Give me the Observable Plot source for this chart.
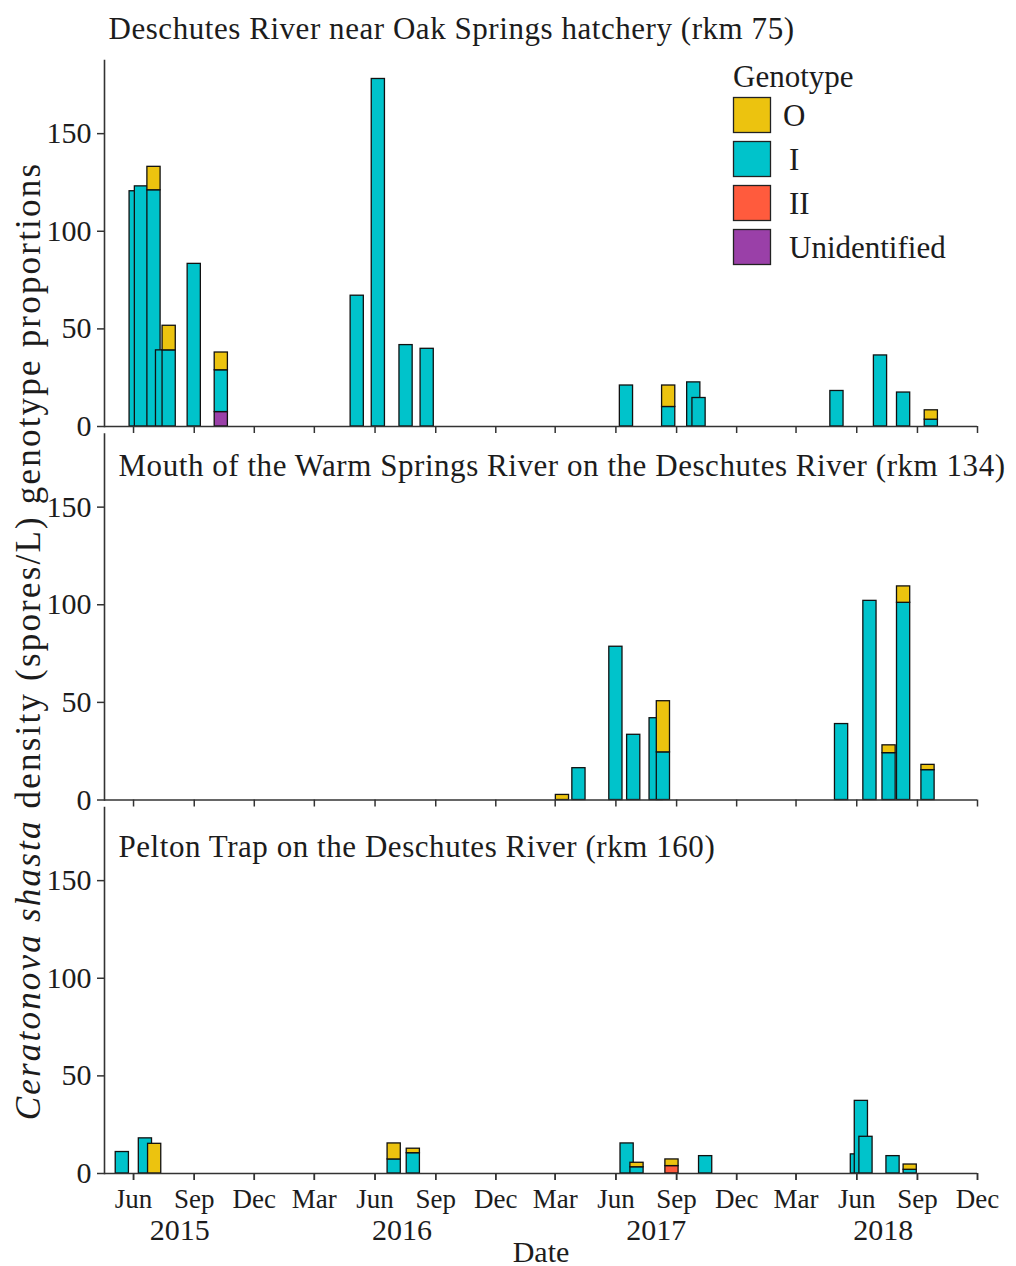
<!DOCTYPE html>
<html>
<head>
<meta charset="utf-8">
<script src="https://cdn.jsdelivr.net/npm/d3@7"></script>
<script src="https://cdn.jsdelivr.net/npm/@observablehq/plot@0.6"></script>
<style>
  html, body { margin: 0; padding: 0; background: #fff; }
  #chart { width: 1016px; height: 1266px; }
</style>
</head>
<body>
<div id="chart"></div>
<script>
// Sampling sites (one panel each)
const sites = [
  "Deschutes River near Oak Springs hatchery (rkm 75)",
  "Mouth of the Warm Springs River on the Deschutes River (rkm 134)",
  "Pelton Trap on the Deschutes River (rkm 160)"
];

// Genotype categories, legend order and fill colours
const genotypes = ["O", "I", "II", "Unidentified"];
const genotypeColors = ["#ecc30f", "#00c3cb", "#ff5b3d", "#9a40a8"];
// Stacking order, bottom to top
const stackOrder = ["Unidentified", "II", "I", "O"];

// Oak Springs hatchery (spores/L)
const oakDates = ["2015-06-05", "2015-06-13", "2015-07-02", "2015-07-15", "2015-07-25", "2015-09-01", "2015-10-12",
                  "2016-05-05", "2016-06-06", "2016-07-18", "2016-08-19",
                  "2017-06-17", "2017-08-20", "2017-09-27", "2017-10-05",
                  "2018-05-02", "2018-07-07", "2018-08-11", "2018-09-22"];
const oakO  = [0, 0, 12, 0, 12.6, 0, 9.1, 0, 0, 0, 0, 0, 11, 0, 0, 0, 0, 0, 4.8];
const oakI  = [120.5, 123, 121, 39, 39, 83.3, 21.4, 67, 178, 41.7, 39.8, 21, 10, 22.6, 14.6, 18.2, 36.4, 17.4, 3.5];
const oakII = [0, 0, 0, 0, 0, 0, 0, 0, 0, 0, 0, 0, 0, 0, 0, 0, 0, 0, 0];
const oakU  = [0, 0, 0, 0, 0, 0, 7.4, 0, 0, 0, 0, 0, 0, 0, 0, 0, 0, 0, 0];

// Mouth of the Warm Springs River (spores/L)
const warmDates = ["2017-03-12", "2017-04-06", "2017-06-01", "2017-06-28", "2017-08-01", "2017-08-12",
                   "2018-05-09", "2018-06-21", "2018-07-20", "2018-08-11", "2018-09-17"];
const warmO  = [2.6, 0, 0, 0, 0, 26.2, 0, 0, 4, 8.4, 2.7];
const warmI  = [0, 16.3, 78.5, 33.4, 41.9, 24.4, 38.9, 102, 24, 101, 15.3];
const warmII = [0, 0, 0, 0, 0, 0, 0, 0, 0, 0, 0];
const warmU  = [0, 0, 0, 0, 0, 0, 0, 0, 0, 0, 0];

// Pelton Trap (spores/L)
const peltonDates = ["2015-05-15", "2015-06-19", "2015-07-03", "2016-06-30", "2016-07-29",
                     "2017-06-18", "2017-07-03", "2017-08-25", "2017-10-15",
                     "2018-06-02", "2018-06-08", "2018-06-15", "2018-07-26", "2018-08-21"];
const peltonO  = [0, 0, 15.2, 8.2, 2.3, 0, 2.3, 3.4, 0, 0, 0, 0, 0, 2.7];
const peltonI  = [11, 18, 0, 7.2, 10.4, 15.4, 3.2, 0, 8.9, 9.8, 37.2, 18.8, 8.9, 1.9];
const peltonII = [0, 0, 0, 0, 0, 0, 0, 3.8, 0, 0, 0, 0, 0, 0];
const peltonU  = [0, 0, 0, 0, 0, 0, 0, 0, 0, 0, 0, 0, 0, 0];

// Axes
const xDomain = ["2015-04-18", "2018-12-01"];
const monthTicks = ["2015-06-01", "2015-09-01", "2015-12-01", "2016-03-01", "2016-06-01", "2016-09-01",
                    "2016-12-01", "2017-03-01", "2017-06-01", "2017-09-01", "2017-12-01", "2018-03-01",
                    "2018-06-01", "2018-09-01", "2018-12-01"];
const yearLabels = ["2015-08-10", "2016-07-12", "2017-08-01", "2018-07-11"];
const yTicks = [0, 50, 100, 150];
const yMax = 189;

// Long table: one row per sample date and genotype
const series = [
  {site: sites[0], dates: oakDates, O: oakO, I: oakI, II: oakII, Unidentified: oakU},
  {site: sites[1], dates: warmDates, O: warmO, I: warmI, II: warmII, Unidentified: warmU},
  {site: sites[2], dates: peltonDates, O: peltonO, I: peltonI, II: peltonII, Unidentified: peltonU}
];
const rows = [];
for (const s of series) {
  s.dates.forEach((d, i) => {
    for (const g of stackOrder) {
      const v = s[g][i];
      if (v > 0) rows.push({site: s.site, date: new Date(d), genotype: g, value: v});
    }
  });
}

const toDate = (arr) => arr.map(d => new Date(d));
const ink = "#1c1c1c";
const axisInk = "#333";
const halfWidthDays = 10;
const titleOptions = {fy: d => d, text: d => d, frameAnchor: "top-left", textAnchor: "start", lineAnchor: "bottom",
                      fontSize: 31, fill: ink, className: "panel-title"};

const chart = Plot.plot({
  width: 1016,
  height: 1266,
  marginTop: 57,
  marginBottom: 93,
  marginLeft: 104,
  marginRight: 39,
  style: {fontFamily: "'Liberation Serif', 'Times New Roman', serif", fontSize: "28px", color: ink, background: "#fff"},
  x: {type: "utc", domain: toDate(xDomain), label: null},
  y: {domain: [0, yMax], label: null},
  fy: {domain: sites, axis: null, paddingInner: 0.012, paddingOuter: 0, round: false},
  color: {domain: genotypes, range: genotypeColors},
  marks: [
    Plot.rectY(rows, {
      x1: d => d3.utcDay.offset(d.date, -halfWidthDays),
      x2: d => d3.utcDay.offset(d.date, halfWidthDays),
      y: "value",
      fy: "site",
      fill: "genotype",
      stroke: "#111",
      strokeWidth: 1.3
    }),
    Plot.ruleY([0], {stroke: axisInk, strokeWidth: 1.6}),
    Plot.frame({anchor: "left", stroke: axisInk, strokeWidth: 1.6, insetTop: 3}),
    // tick marks under every panel's baseline
    Plot.axisX(toDate(monthTicks), {tickSize: 7, fill: "none", stroke: axisInk, strokeWidth: 1.5, facetAnchor: null}),
    // month labels under the bottom panel
    Plot.axisX(toDate(monthTicks), {
      tickSize: 7, tickPadding: 8, tickFormat: d3.utcFormat("%b"), fontSize: 27,
      stroke: axisInk, strokeWidth: 1.5, label: null
    }),
    // year labels and the axis title
    Plot.axisX(toDate(yearLabels), {
      tickSize: 0, tickPadding: 45, tickFormat: d3.utcFormat("%Y"), fontSize: 30,
      label: "Date", labelAnchor: "center", labelOffset: 88, labelArrow: "none"
    }),
    Plot.axisY(yTicks, {tickSize: 7, tickPadding: 6, fontSize: 30, stroke: axisInk, strokeWidth: 1.5, label: null}),
    // panel titles
    Plot.text([sites[0]], {...titleOptions, dx: 4, dy: -19}),
    Plot.text([sites[1]], {...titleOptions, dx: 14, dy: 45}),
    Plot.text([sites[2]], {...titleOptions, dx: 14, dy: 53})
  ]
});

document.getElementById("chart").appendChild(chart);

const svg = d3.select(chart);

// panel titles: slightly wider tracking
svg.selectAll(".panel-title text").style("letter-spacing", "0.55px");

// shared y-axis title with italic species name
const yTitle = svg.append("text")
  .attr("transform", "translate(40,641) rotate(-90)")
  .attr("text-anchor", "middle")
  .attr("fill", ink)
  .style("font-size", "35px")
  .style("letter-spacing", "2.2px");
yTitle.append("tspan").style("font-style", "italic").text("Ceratonova shasta");
yTitle.append("tspan").text(" density (spores/L) genotype proportions");

// genotype legend in the top panel
const legend = svg.append("g")
  .attr("transform", "translate(733,0)")
  .attr("text-anchor", "start")
  .attr("fill", ink)
  .style("font-size", "31px");
legend.append("text").attr("x", 0).attr("y", 87).text("Genotype");
genotypes.forEach((g, i) => {
  const top = 97.5 + i * 44;
  legend.append("rect")
    .attr("x", 0.5).attr("y", top).attr("width", 37).attr("height", 35)
    .attr("fill", genotypeColors[i]).attr("stroke", "#222").attr("stroke-width", 1.3);
  legend.append("text")
    .attr("x", g === "O" ? 50 : 56).attr("y", top + 28).text(g);
});
</script>
</body>
</html>
